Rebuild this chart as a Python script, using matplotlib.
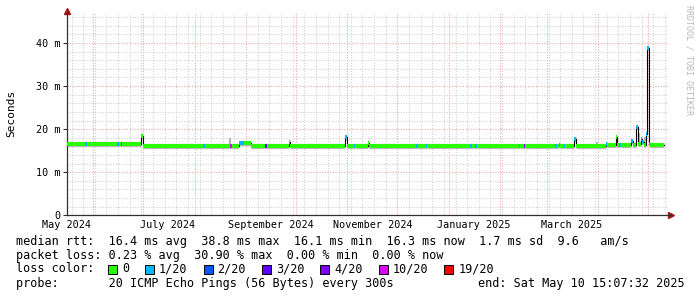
import pandas as pd
import matplotlib
matplotlib.use("Agg")
import matplotlib.pyplot as plt
import matplotlib.dates as mdates
from matplotlib.ticker import MultipleLocator, FuncFormatter
from matplotlib.patches import Rectangle

MONO = "DejaVu Sans Mono"

graph_start = "2024-05-16 06:00"
graph_end = "2025-05-12 06:00"
data_end = "2025-05-10 15:07:32"

# median rtt (ms), stepwise: each value holds until the next start time
seg_start = [
    "2024-05-16 06:00", "2024-05-27 06:00", "2024-05-28 06:00", "2024-06-15 12:00",
    "2024-06-16 12:00", "2024-06-17 12:00", "2024-06-18 06:00", "2024-06-29 20:00",
    "2024-06-30 20:00", "2024-08-06 08:00", "2024-08-07 08:00", "2024-08-22 12:00",
    "2024-08-23 12:00", "2024-08-27 12:00", "2024-08-30 12:00", "2024-09-04 00:00",
    "2024-09-12 16:00", "2024-09-13 16:00", "2024-09-26 18:00", "2024-09-27 12:00",
    "2024-10-30 06:00", "2024-10-31 12:00", "2024-11-04 16:00", "2024-11-05 16:00",
    "2024-11-13 02:00", "2024-11-13 20:00", "2024-12-12 10:00", "2024-12-13 10:00",
    "2024-12-18 00:00", "2024-12-19 00:00", "2025-01-13 16:00", "2025-01-14 16:00",
    "2025-01-16 16:00", "2025-01-17 16:00", "2025-02-11 22:00", "2025-02-12 22:00",
    "2025-02-14 22:00", "2025-02-15 22:00", "2025-03-06 02:00", "2025-03-07 02:00",
    "2025-03-08 02:00", "2025-03-09 02:00", "2025-03-11 02:00", "2025-03-12 02:00",
    "2025-03-17 05:00", "2025-03-18 05:00", "2025-04-05 08:00", "2025-04-06 08:00",
    "2025-04-11 10:00", "2025-04-12 10:00", "2025-04-13 10:00", "2025-04-14 10:00",
    "2025-04-20 12:00", "2025-04-21 12:00", "2025-04-23 12:00", "2025-04-25 00:00",
    "2025-04-26 12:00", "2025-04-27 12:00", "2025-04-28 12:00", "2025-04-29 12:00",
    "2025-04-30 12:00", "2025-05-01 06:00", "2025-05-02 00:00",
]
seg_median = [
    16.5, 16.5, 16.5, 16.5, 16.5, 16.5, 16.5, 18.3,
    16.2, 16.2, 16.2, 16.2, 16.2, 16.7, 16.9, 16.2,
    16.2, 16.2, 17.0, 16.2, 18.2, 16.2, 16.2, 16.2,
    16.9, 16.2, 16.2, 16.2, 16.2, 16.2, 16.2, 16.2,
    16.2, 16.2, 16.2, 16.2, 16.2, 16.2, 16.2, 16.2,
    16.3, 16.2, 16.2, 16.2, 17.7, 16.2, 16.6, 16.3,
    18.2, 16.3, 16.3, 16.3, 17.3, 16.3, 20.4, 16.5,
    17.6, 17.0, 16.4, 18.8, 38.8, 16.5, 16.3,
]
# index into loss_labels / loss_colors
seg_loss = [
    0, 1, 0, 1, 0, 2, 0, 0,
    0, 1, 0, 5, 0, 1, 0, 0,
    3, 0, 0, 0, 1, 0, 1, 0,
    0, 0, 1, 0, 1, 0, 1, 0,
    1, 0, 1, 0, 4, 0, 1, 0,
    1, 0, 1, 0, 1, 0, 1, 0,
    0, 0, 1, 0, 1, 0, 1, 0,
    1, 1, 0, 1, 1, 1, 0,
]

# isolated smoke (spread of pings) that sticks out above the median
smoke_time = ["2024-08-22 12:00", "2025-03-31 08:00", "2025-04-25 12:00", "2025-04-29 00:00"]
smoke_top = [17.9, 17.0, 19.0, 18.2]

loss_labels = ["0", "1/20", "2/20", "3/20", "4/20", "10/20", "19/20"]
loss_colors = ["#26ff00", "#00b8ff", "#0059ff", "#5e00ff", "#7e00ff", "#dd00ff", "#ff0000"]

month_label_dates = ["2024-05-16", "2024-07-16", "2024-09-16", "2024-11-16", "2025-01-16", "2025-03-16"]
month_labels = ["May 2024", "July 2024", "September 2024", "November 2024", "January 2025", "March 2025"]

rtt_line = "median rtt:  16.4 ms avg  38.8 ms max  16.1 ms min  16.3 ms now  1.7 ms sd  9.6   am/s"
loss_line = "packet loss: 0.23 % avg  30.90 % max  0.00 % min  0.00 % now"
probe_line = "probe:       20 ICMP Echo Pings (56 Bytes) every 300s"
end_line = "end: Sat May 10 15:07:32 2025"

W, H = 697, 297


def fx(px):
    return px / W


def fy(py):
    return 1 - py / H


def to_num(dates):
    return mdates.date2num(pd.to_datetime(dates, format="ISO8601"))


fig = plt.figure(figsize=(W / 100, H / 100), dpi=100)
fig.patch.set_facecolor("white")
ax = fig.add_axes([fx(67), fy(215.3), 600 / W, 202 / H])
ax.set_facecolor("white")

t = to_num(seg_start + [data_end])
vals = seg_median + [seg_median[-1]]
seg_colors = [loss_colors[i] for i in seg_loss]

# smoke
st = to_num(smoke_time)
ax.vlines(st, 16.2, smoke_top, color="#b4b4b4", lw=1.6, zorder=2)
ax.hlines(seg_median, t[:-1], t[1:], color="#b8b8b8", lw=3.8, zorder=2)
# median
ax.step(t, vals, where="post", color="black", lw=0.8, zorder=3)
ax.hlines(seg_median, t[:-1], t[1:], colors=seg_colors, lw=2.8, zorder=4)

ax.set_xlim(to_num([graph_start, graph_end]))
ax.set_ylim(0, 46.9)

# grid
ax.xaxis.set_major_locator(mdates.MonthLocator())
ax.xaxis.set_minor_locator(mdates.WeekdayLocator(byweekday=mdates.SU))
ax.yaxis.set_major_locator(MultipleLocator(10))
ax.yaxis.set_minor_locator(MultipleLocator(2))
ax.grid(which="minor", color="#cdcdcd", lw=0.75, ls=(0, (1, 1.6)))
ax.grid(which="major", color="#f0a0a0", lw=0.75, ls=(0, (1, 1.6)))
ax.set_axisbelow(True)

ax.xaxis.set_major_formatter(FuncFormatter(lambda v, p: ""))
ax.yaxis.set_major_formatter(FuncFormatter(lambda v, p: f"{v:.0f} m" if v else "0"))
ax.tick_params(axis="x", which="both", length=0)
ax.tick_params(axis="y", which="minor", length=0)
ax.tick_params(axis="y", which="major", length=3, width=0.8, color="#303030", labelsize=7.3, pad=2)
for lab in ax.get_yticklabels():
    lab.set_family(MONO)

for d, lab in zip(month_label_dates, month_labels):
    ax.text(to_num([d])[0], -0.047, lab, transform=ax.get_xaxis_transform(),
            ha="center", va="center", fontsize=7.3, family=MONO, clip_on=False)

for side in ["top", "right", "bottom"]:
    ax.spines[side].set_visible(False)
ax.spines["left"].set_color("#303030")
ax.spines["left"].set_linewidth(0.9)
ax.plot([0, 1.006], [0, 0], transform=ax.transAxes, color="#303030", lw=0.9, clip_on=False, zorder=5)
ax.plot([0], [1.01], marker="^", ms=4.5, color="#a01818", transform=ax.transAxes, clip_on=False)
ax.plot([1.0065], [0], marker=">", ms=4.5, color="#a01818", transform=ax.transAxes, clip_on=False)

fig.text(fx(11), fy(113), "Seconds", rotation=90, ha="center", va="center", fontsize=8, family=MONO)
fig.text(fx(688.5), fy(60), "RRDTOOL / TOBI OETIKER", rotation=270, ha="center", va="center",
         fontsize=6, family=MONO, color="#b8b8b8")

# legend block
cw = 7.1
fig.text(fx(16), fy(241), rtt_line, ha="left", va="center", fontsize=8.5, family=MONO)
fig.text(fx(16), fy(255), loss_line, ha="left", va="center", fontsize=8.5, family=MONO)
fig.text(fx(16), fy(269), "loss color:", ha="left", va="center", fontsize=8.5, family=MONO)
fig.text(fx(16), fy(283), probe_line, ha="left", va="center", fontsize=8.5, family=MONO)
fig.text(fx(478), fy(283), end_line, ha="left", va="center", fontsize=8.5, family=MONO)

bx = 108
for lab, col in zip(loss_labels, loss_colors):
    fig.patches.append(Rectangle((fx(bx), fy(273.5)), 9 / W, 9 / H, transform=fig.transFigure,
                                 facecolor=col, edgecolor="black", lw=0.7))
    fig.text(fx(bx + 14), fy(269), lab, ha="left", va="center", fontsize=8.5, family=MONO)
    bx += 30 + len(lab) * cw

fig.savefig("out.png", dpi=100)
